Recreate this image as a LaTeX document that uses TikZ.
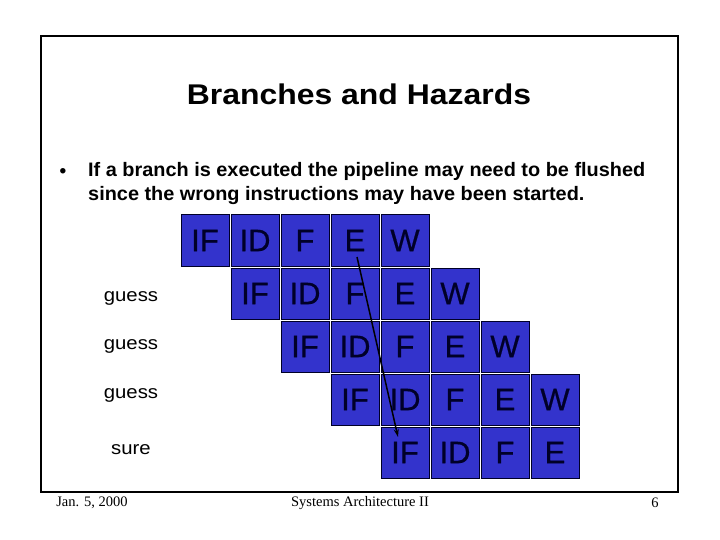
\documentclass[tikz,border=0pt]{standalone}
\usepackage{fontspec}
\setmainfont{Liberation Sans}
\newfontfamily\footfont{Liberation Serif}
\newfontfamily\titlefont[FakeStretch=1.12]{Liberation Sans}
\newfontfamily\labelfont[FakeStretch=1.1]{Liberation Sans}
\newfontfamily\bulletfont[FakeStretch=1.02]{Liberation Sans}
\newfontfamily\cellfont[FakeBold=0.6]{Liberation Sans}
\usetikzlibrary{arrows.meta}
\definecolor{cellblue}{RGB}{51,51,204}
\definecolor{celltext}{RGB}{0,0,40}
\tikzset{
  cell/.style={draw=celltext, line width=1pt, fill=cellblue, minimum width=48pt, minimum height=51pt,
    inner sep=0pt, font=\cellfont\fontsize{31}{31}\selectfont, text=celltext},
  sidelabel/.style={font=\labelfont\fontsize{18.5}{20}\selectfont, anchor=center},
  foot/.style={font=\footfont\fontsize{14.5}{16}\selectfont},
}
\begin{document}
\begin{tikzpicture}[x=1pt,y=-1pt]
\useasboundingbox (0,0) rectangle (720,540);
\fill[white] (0,0) rectangle (720,540);
\draw[line width=2pt] (41,36) rectangle (678,492);
\node (title) at (359,94) {\titlefont\fontsize{28.5}{30}\selectfont\bfseries Branches and Hazards};
\node (bullet) at (63,173) {\fontsize{19}{20}\selectfont\textbf{\textbullet}};
\node[anchor=west, align=left, inner sep=0pt, font=\bulletfont\fontsize{19.5}{24}\selectfont\bfseries] (text) at (88,184)
  {If a branch is executed the pipeline may need to be flushed\\
   since the wrong instructions may have been started.};
% pipeline cells
\foreach \r/\lst in {0/{IF,ID,F,E,W},1/{IF,ID,F,E,W},2/{IF,ID,F,E,W},3/{IF,ID,F,E,W},4/{IF,ID,F,E}}{
  \foreach \t [count=\c from 0] in \lst {
    \node[cell] (c\r\c) at ({180+50*(\r+\c)+25},{214+53*\r+26.5}) {\t};
  }
}
\node[sidelabel] (g1) at (131,298.5) {guess};
\node[sidelabel] (g2) at (131,346.5) {guess};
\node[sidelabel] (g3) at (131,395.5) {guess};
\node[sidelabel] (s1) at (131,449.5) {sure};
\coordinate (as) at (357,257);
\coordinate (ae) at (398,437);
\draw[line width=1.5pt, -{Stealth[length=8pt,width=5pt]}] (as) -- (ae);
\node[foot] (f1) at (92,503) {Jan. 5, 2000};
\node[foot] (f2) at (360,503) {Systems Architecture II};
\node[foot] (f3) at (655,503) {6};
\end{tikzpicture}
\end{document}
